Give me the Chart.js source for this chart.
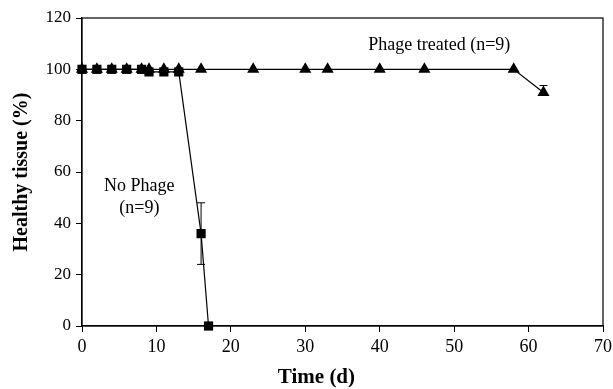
<!DOCTYPE html>
<html>
<head>
<meta charset="utf-8">
<script src="https://cdn.jsdelivr.net/npm/chart.js@4.4.0/dist/chart.umd.min.js"></script>
<style>
  html, body { margin: 0; padding: 0; background: #fff; }
  #wrap { width: 613px; height: 389px; }
</style>
</head>
<body>
<div id="wrap"><canvas id="healthChart" width="613" height="389"></canvas></div>
<script>
// data
var noPhageDays = [0, 2, 4, 6, 8, 9, 11, 13, 16, 17];
var noPhageHealthy = [100, 100, 100, 100, 100, 99, 99, 99, 36, 0];
var noPhageErrUp = [0, 0, 0, 0, 0, 0, 0, 0, 12, 0];
var noPhageErrDown = [0, 0, 0, 0, 0, 0, 0, 0, 12, 0];

var phageDays = [0, 2, 4, 6, 8, 9, 11, 13, 16, 23, 30, 33, 40, 46, 58, 62];
var phageHealthy = [100, 100, 100, 100, 100, 100, 100, 100, 100, 100, 100, 100, 100, 100, 100, 91];
var phageErrUp = [0, 0, 0, 0, 0, 0, 0, 0, 0, 0, 0, 0, 0, 0, 0, 2.7];
var phageErrDown = [0, 0, 0, 0, 0, 0, 0, 0, 0, 0, 0, 0, 0, 0, 0, 0];

var xTicks = [0, 10, 20, 30, 40, 50, 60, 70];
var yTicks = [0, 20, 40, 60, 80, 100, 120];

function toPoints(xs, ys) {
  return xs.map(function (x, i) { return { x: x, y: ys[i] }; });
}

var serif = "'Liberation Serif', 'Times New Roman', serif";

// error bars + frame + text labels
var extras = {
  id: "extras",
  afterDatasetsDraw: function (chart) {
    var ctx = chart.ctx;
    var xs = chart.scales.x, ys = chart.scales.y;
    ctx.save();
    ctx.strokeStyle = "#000";
    ctx.lineWidth = 1;
    chart.data.datasets.forEach(function (ds) {
      ds.data.forEach(function (p, i) {
        var up = ds.errUp[i], down = ds.errDown[i];
        if (!up && !down) return;
        var px = xs.getPixelForValue(p.x);
        var mid = ys.getPixelForValue(p.y);
        ctx.beginPath();
        if (up) {
          var top = ys.getPixelForValue(p.y + up);
          ctx.moveTo(px, mid); ctx.lineTo(px, top);
          ctx.moveTo(px - 4, top); ctx.lineTo(px + 4, top);
        }
        if (down) {
          var bot = ys.getPixelForValue(p.y - down);
          ctx.moveTo(px, mid); ctx.lineTo(px, bot);
          ctx.moveTo(px - 4, bot); ctx.lineTo(px + 4, bot);
        }
        ctx.stroke();
      });
    });
    var a = chart.chartArea;
    ctx.lineWidth = 1.2;
    ctx.strokeRect(a.left, a.top, a.right - a.left, a.bottom - a.top);

    ctx.fillStyle = "#000";
    ctx.font = "18px " + serif;
    ctx.textAlign = "center";
    ctx.textBaseline = "middle";
    ctx.fillText("Phage treated (n=9)", xs.getPixelForValue(48), ys.getPixelForValue(109.2));
    ctx.fillText("No Phage", xs.getPixelForValue(7.7), ys.getPixelForValue(54.5));
    ctx.fillText("(n=9)", xs.getPixelForValue(7.7), ys.getPixelForValue(46));

    // x axis title sits a bit left of centre in the original
    ctx.font = "bold 21px " + serif;
    ctx.fillText("Time (d)", xs.getPixelForValue(31.5), 378);
    ctx.restore();
  }
};

var ctx = document.getElementById("healthChart").getContext("2d");
var healthChart = new Chart(ctx, {
  type: "scatter",
  data: {
    datasets: [
      {
        label: "No Phage",
        data: toPoints(noPhageDays, noPhageHealthy),
        errUp: noPhageErrUp,
        errDown: noPhageErrDown,
        showLine: true,
        borderColor: "#000",
        backgroundColor: "#000",
        borderWidth: 1.2,
        pointStyle: "rect",
        pointRadius: 6.5,
        pointBorderWidth: 0,
        clip: false
      },
      {
        label: "Phage treated",
        data: toPoints(phageDays, phageHealthy),
        errUp: phageErrUp,
        errDown: phageErrDown,
        showLine: true,
        borderColor: "#000",
        backgroundColor: "#000",
        borderWidth: 1.2,
        pointStyle: "triangle",
        pointRadius: 7,
        pointBorderWidth: 0,
        clip: false
      }
    ]
  },
  options: {
    responsive: false,
    animation: false,
    layout: { padding: { top: 18, right: 0, left: 0, bottom: 0 } },
    plugins: {
      legend: { display: false },
      tooltip: { enabled: false }
    },
    scales: {
      x: {
        type: "linear",
        min: 0,
        max: 70,
        afterBuildTicks: function (s) { s.ticks = xTicks.map(function (v) { return { value: v }; }); },
        afterFit: function (s) { s.height = 63; s.paddingRight = 10; },
        grid: { drawOnChartArea: false, drawTicks: true, tickLength: 6, color: "#000" },
        border: { color: "#000", width: 1.2 },
        ticks: { color: "#000", font: { family: serif, size: 18 }, padding: 4, maxRotation: 0 },
        title: { display: false }
      },
      y: {
        type: "linear",
        min: 0,
        max: 120,
        afterBuildTicks: function (s) { s.ticks = yTicks.map(function (v) { return { value: v }; }); },
        afterFit: function (s) { s.width = 82; },
        grid: { drawOnChartArea: false, drawTicks: true, tickLength: 6, color: "#000" },
        border: { color: "#000", width: 1.2 },
        ticks: { color: "#000", font: { family: serif, size: 17 }, padding: 5 },
        title: { display: true, text: "Healthy tissue (%)", color: "#000", font: { family: serif, size: 20, weight: "bold" }, padding: { top: 10, bottom: 0 } }
      }
    }
  },
  plugins: [extras]
});
</script>
</body>
</html>
